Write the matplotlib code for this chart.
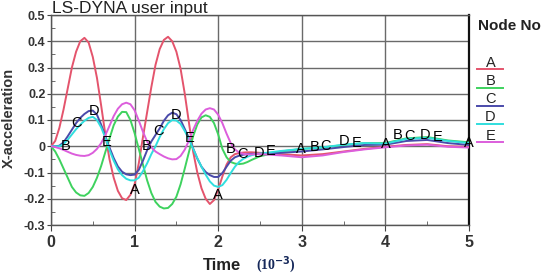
import matplotlib
matplotlib.use("Agg")
import matplotlib.pyplot as plt
from matplotlib.lines import Line2D
from matplotlib.ticker import MultipleLocator, FixedLocator

plt.rcParams['font.family'] = ['Liberation Sans', 'DejaVu Sans']

# ---- data ----
time = [0.00, 0.05, 0.10, 0.15, 0.20, 0.25, 0.30, 0.35, 0.40, 0.45,
        0.50, 0.55, 0.60, 0.65, 0.70, 0.75, 0.80, 0.85, 0.90, 0.95,
        1.00, 1.05, 1.10, 1.15, 1.20, 1.25, 1.30, 1.35, 1.40, 1.45,
        1.50, 1.55, 1.60, 1.65, 1.70, 1.75, 1.80, 1.85, 1.90, 1.95,
        2.00, 2.05, 2.10, 2.15, 2.20, 2.25, 2.30, 2.35, 2.40, 2.45,
        2.50, 2.75, 3.00, 3.25, 3.50, 3.75, 4.00, 4.25, 4.50, 4.75, 5.00]

node_a = [0.000, 0.020, 0.070, 0.140, 0.220, 0.300, 0.360, 0.400, 0.413, 0.395,
          0.340, 0.260, 0.155, 0.045, -0.050, -0.120, -0.170, -0.198, -0.205, -0.185,
          -0.145, -0.065, 0.035, 0.130, 0.225, 0.310, 0.370, 0.405, 0.417, 0.400,
          0.360, 0.295, 0.200, 0.090, -0.020, -0.100, -0.160, -0.200, -0.220, -0.205,
          -0.165, -0.115, -0.070, -0.042, -0.030, -0.026, -0.024, -0.023, -0.023, -0.024,
          -0.025, -0.030, -0.035, -0.030, -0.020, -0.010, -0.002, 0.005, 0.008, 0.000, -0.002]

node_b = [0.000, -0.020, -0.050, -0.085, -0.120, -0.155, -0.176, -0.187, -0.189, -0.178,
          -0.155, -0.120, -0.075, -0.022, 0.030, 0.080, 0.113, 0.131, 0.130, 0.100,
          0.050, -0.010, -0.070, -0.130, -0.178, -0.212, -0.230, -0.237, -0.235, -0.220,
          -0.192, -0.145, -0.085, -0.022, 0.038, 0.083, 0.110, 0.118, 0.112, 0.088,
          0.045, -0.010, -0.042, -0.060, -0.066, -0.068, -0.066, -0.060, -0.052, -0.045,
          -0.038, -0.020, -0.010, -0.005, 0.005, 0.012, 0.012, 0.030, 0.035, 0.022, 0.015]

node_c = [0.000, 0.000, 0.002, 0.015, 0.038, 0.063, 0.088, 0.108, 0.123, 0.134,
          0.136, 0.120, 0.082, 0.038, -0.005, -0.045, -0.077, -0.097, -0.107, -0.110,
          -0.108, -0.090, -0.055, -0.015, 0.018, 0.043, 0.068, 0.097, 0.118, 0.128,
          0.122, 0.100, 0.066, 0.032, -0.008, -0.047, -0.078, -0.098, -0.110, -0.117,
          -0.117, -0.102, -0.078, -0.055, -0.042, -0.036, -0.032, -0.030, -0.029, -0.029,
          -0.029, -0.025, -0.020, -0.012, -0.003, 0.005, 0.006, 0.020, 0.024, 0.012, 0.005]

node_d = [0.000, 0.000, 0.000, 0.008, 0.025, 0.045, 0.065, 0.082, 0.097, 0.108,
          0.112, 0.100, 0.072, 0.032, -0.015, -0.055, -0.088, -0.110, -0.124, -0.130,
          -0.130, -0.120, -0.095, -0.065, -0.030, 0.000, 0.035, 0.065, 0.088, 0.100,
          0.098, 0.085, 0.058, 0.027, -0.010, -0.045, -0.078, -0.108, -0.134, -0.150,
          -0.155, -0.148, -0.128, -0.102, -0.078, -0.060, -0.048, -0.040, -0.034, -0.030,
          -0.028, -0.018, -0.010, -0.004, 0.006, 0.012, 0.010, 0.028, 0.032, 0.020, 0.012]

node_e = [0.000, -0.003, -0.008, -0.014, -0.021, -0.028, -0.033, -0.036, -0.037, -0.034,
          -0.025, -0.010, 0.012, 0.042, 0.078, 0.115, 0.143, 0.160, 0.166, 0.160,
          0.137, 0.098, 0.055, 0.018, -0.004, -0.020, -0.030, -0.039, -0.046, -0.050,
          -0.049, -0.037, -0.013, 0.022, 0.062, 0.097, 0.124, 0.140, 0.145, 0.140,
          0.120, 0.088, 0.048, 0.012, -0.012, -0.024, -0.029, -0.031, -0.031, -0.030,
          -0.030, -0.035, -0.042, -0.035, -0.022, -0.012, -0.004, 0.003, 0.006, -0.002, -0.005]

node_names = ['A', 'B', 'C', 'D', 'E']
node_colors = ['#e4546c', '#3ed25e', '#4a4aaa', '#30dede', '#dc5edc']

# curve labels placed along the curves
lbl_text = ['B', 'C', 'D', 'E', 'A',
            'B', 'C', 'D', 'E', 'A',
            'B', 'C', 'D', 'E', 'A',
            'B', 'C', 'D', 'E', 'A',
            'B', 'C', 'D', 'E', 'A']
lbl_t = [0.17, 0.31, 0.51, 0.66, 1.00,
         1.14, 1.28, 1.50, 1.655, 2.00,
         2.15, 2.29, 2.49, 2.63, 2.99,
         3.15, 3.28, 3.50, 3.65, 4.00,
         4.15, 4.29, 4.48, 4.63, 5.00]
lbl_v = [0.000, 0.090, 0.133, 0.016, -0.168,
         0.000, 0.057, 0.118, 0.032, -0.184,
         -0.010, -0.030, -0.024, -0.018, -0.010,
         -0.002, 0.001, 0.020, 0.013, 0.008,
         0.042, 0.038, 0.044, 0.036, 0.013]

x_ticks = [0, 1, 2, 3, 4, 5]
y_ticks = [-0.3, -0.2, -0.1, 0.0, 0.1, 0.2, 0.3, 0.4, 0.5]
y_ticklabels = ['-0.3', '-0.2', '-0.1', '0', '0.1', '0.2', '0.3', '0.4', '0.5']

# ---- figure ----
W, H = 550, 279
fig = plt.figure(figsize=(W / 100, H / 100), dpi=100)
ax = fig.add_axes([51 / W, 1 - 225 / H, (469 - 51) / W, (225 - 15) / H])

series = [node_a, node_b, node_c, node_d, node_e]
for vals, col in zip(series, node_colors):
    ax.plot(time, vals, color=col, lw=1.4, zorder=3)

for s, tt, vv in zip(lbl_text, lbl_t, lbl_v):
    ax.text(tt, vv, s, fontsize=10.5, color='#000', ha='center', va='center', zorder=5)

ax.set_xlim(0, 5)
ax.set_ylim(-0.3, 0.5)
ax.xaxis.set_major_locator(FixedLocator(x_ticks))
ax.yaxis.set_major_locator(FixedLocator(y_ticks))
ax.set_yticklabels(y_ticklabels)
ax.xaxis.set_minor_locator(MultipleLocator(0.5))
ax.yaxis.set_minor_locator(MultipleLocator(0.05))
ax.grid(True, which='major', color='#6a6a6a', lw=1.0, zorder=1)
ax.tick_params(axis='x', which='major', direction='out', length=4, color='#444',
               labelsize=11.5, pad=3)
ax.tick_params(axis='y', which='major', direction='out', length=3, color='#444',
               labelsize=9, pad=1)
ax.tick_params(which='minor', direction='in', length=3, color='#555')
for lab in ax.get_xticklabels() + ax.get_yticklabels():
    lab.set_fontweight('bold')
    lab.set_color('#333')
for side in ['left', 'top', 'bottom']:
    ax.spines[side].set_color('#555')
    ax.spines[side].set_linewidth(1.0)
ax.spines['right'].set_color('#111')
ax.spines['right'].set_linewidth(1.6)

# titles and axis labels
fig.text(52 / W, 1 - 8 / H, 'LS-DYNA user input', fontsize=12.5, color='#222',
         ha='left', va='center')
fig.text(9 / W, 1 - 118 / H, 'X-acceleration', fontsize=10.5, color='#333',
         fontweight='bold', rotation=90, ha='center', va='center')
fig.text(203 / W, 1 - 266 / H, 'Time', fontsize=12, color='#222',
         fontweight='bold', ha='left', va='center')
fig.text(256 / W, 1 - 265 / H, r'(10$^{\mathbf{-3}}$)', fontsize=10, color='#16285a',
         family=['Liberation Serif', 'DejaVu Serif'], fontweight='bold',
         ha='left', va='center')

# legend
fig.text(478 / W, 1 - 26 / H, 'Node No', fontsize=11, fontweight='bold',
         color='#222', ha='left', va='center')
leg_letter_y = [62.7, 81.0, 99.0, 117.3, 135.7]
leg_line_y = [69.3, 87.7, 105.7, 124.0, 141.7]
for name, col, ly, lly in zip(node_names, node_colors, leg_letter_y, leg_line_y):
    fig.text(490.5 / W, 1 - ly / H, name, fontsize=10.5, color='#222',
             ha='center', va='center')
    fig.add_artist(Line2D([477 / W, 503 / W], [1 - lly / H, 1 - lly / H],
                          transform=fig.transFigure, color=col, lw=1.4))

fig.savefig('out.png', dpi=100)
